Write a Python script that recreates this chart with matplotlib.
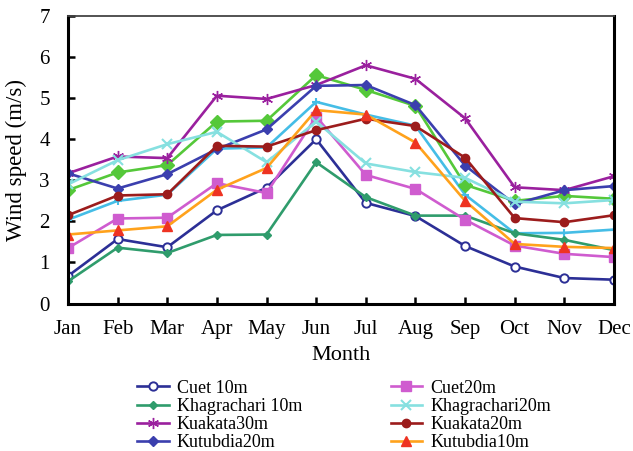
import numpy as np
import matplotlib
matplotlib.use('Agg')
import matplotlib.pyplot as plt

months = ['Jan', 'Feb', 'Mar', 'Apr', 'May', 'Jun', 'Jul', 'Aug', 'Sep', 'Oct', 'Nov', 'Dec']

cuet10 = [0.67, 1.57, 1.37, 2.27, 2.82, 4.0, 2.45, 2.13, 1.4, 0.9, 0.62, 0.58]
cuet20 = [1.35, 2.07, 2.09, 2.93, 2.69, 4.55, 3.13, 2.79, 2.04, 1.41, 1.21, 1.13]
khag10 = [0.54, 1.36, 1.23, 1.67, 1.68, 3.44, 2.59, 2.14, 2.14, 1.71, 1.55, 1.3]
khag20 = [2.9, 3.49, 3.88, 4.18, 3.44, 4.43, 3.41, 3.2, 3.06, 2.48, 2.44, 2.52]
kuak30 = [3.17, 3.58, 3.54, 5.06, 4.98, 5.32, 5.8, 5.47, 4.51, 2.83, 2.76, 3.1]
kuak20 = [2.15, 2.63, 2.66, 3.84, 3.82, 4.22, 4.5, 4.32, 3.55, 2.08, 1.98, 2.15]
kutub20 = [3.17, 2.8, 3.15, 3.76, 4.24, 5.3, 5.32, 4.83, 3.36, 2.42, 2.76, 2.86]
kutub10 = [1.68, 1.78, 1.88, 2.77, 3.3, 4.71, 4.6, 3.92, 2.5, 1.45, 1.38, 1.35]
# two series drawn in the chart whose legend rows are cut off
green_extra = [2.76, 3.19, 3.37, 4.43, 4.45, 5.56, 5.2, 4.81, 2.89, 2.5, 2.62, 2.55]
sky_extra = [2.04, 2.5, 2.65, 3.77, 3.8, 4.91, 4.6, 4.33, 2.65, 1.71, 1.72, 1.8]

plt.rcParams['font.family'] = ['Liberation Serif', 'DejaVu Serif']

fig = plt.figure(figsize=(6.33, 4.51), dpi=100)
ax = fig.add_axes([0.1074, 0.327, 0.8626, 0.6375])
x = np.arange(len(months))
lw = 1.9

ax.plot(x, sky_extra, color='#45bde6', lw=lw, marker='+', ms=6, mew=1.5, label='_nolegend_')
ax.plot(x, green_extra, color='#55c83a', lw=lw, marker='D', ms=7, label='_nolegend_')

h1, = ax.plot(x, cuet10, color='#2c2f96', lw=lw, marker='o', ms=6, mfc='white', mew=1.4, label='Cuet 10m')
h2, = ax.plot(x, khag10, color='#2f9c6c', lw=lw, marker='D', ms=4.5, label='Khagrachari 10m')
h3, = ax.plot(x, kuak30, color='#9a209e', lw=lw, marker=(6, 2, 0), ms=8, mew=1.0, label='Kuakata30m')
h4, = ax.plot(x, kutub20, color='#3b3fae', lw=lw, marker='D', ms=5.5, label='Kutubdia20m')
h5, = ax.plot(x, cuet20, color='#cf5ccf', lw=lw, marker='s', ms=6.5, label='Cuet20m')
h6, = ax.plot(x, khag20, color='#86e0e0', lw=lw, marker='x', ms=7, mew=1.5, label='Khagrachari20m')
h7, = ax.plot(x, kuak20, color='#9c1c1c', lw=lw, marker='o', ms=6, label='Kuakata20m')
h8, = ax.plot(x, kutub10, color='#ffa21c', lw=lw, marker='^', ms=7, mfc='#ee3322', mec='#ee3322', label='Kutubdia10m')

ax.set_xlim(0, 11)
ax.set_ylim(0, 7)
ax.set_xticks(x)
ax.set_xticklabels(months)
ax.set_yticks(range(8))
ax.tick_params(direction='in', length=5, width=1.8, labelsize=15, pad=12)
ax.tick_params(axis='y', pad=13)
for side in ['left', 'bottom', 'right']:
    ax.spines[side].set_linewidth(2.2)
ax.spines['top'].set_linewidth(1.3)
ax.spines['top'].set_color('#444444')

ax.set_xlabel('Month', fontsize=16, labelpad=5)
ax.set_ylabel('Wind speed (m/s)', fontsize=16.5, labelpad=9)

fig.legend(handles=[h1, h2, h3, h4, h5, h6, h7, h8], ncol=2, frameon=False,
           loc='upper left', bbox_to_anchor=(0.205, 0.174), fontsize=13,
           handlelength=1.75, columnspacing=4.9, labelspacing=0.06,
           handletextpad=0.45, borderaxespad=0)

fig.savefig('out.png', dpi=100)
